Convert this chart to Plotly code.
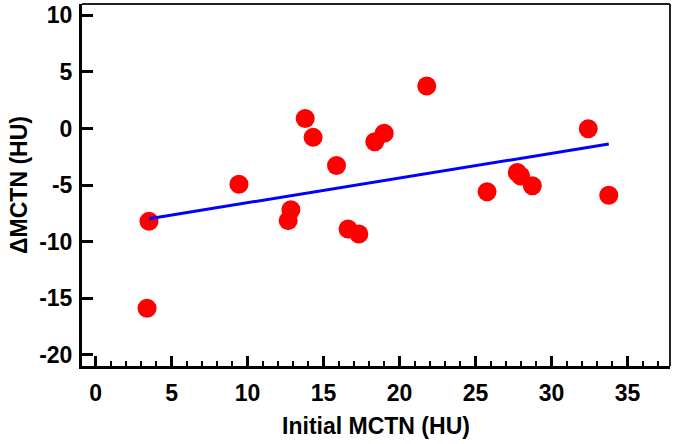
import plotly.graph_objects as go

initial_mctn = [3.51, 3.38, 9.43, 12.67, 12.85, 13.79, 14.31, 15.85, 16.61, 17.32,
                18.37, 18.99, 21.79, 25.76, 27.75, 27.97, 28.74, 32.42, 33.77]
delta_mctn = [-8.2, -15.9, -4.94, -8.15, -7.18, 0.88, -0.79, -3.27, -8.89, -9.33,
              -1.18, -0.43, 3.75, -5.6, -3.9, -4.2, -5.07, -0.02, -5.9]
fit_x = [3.51, 33.77]
fit_y = [-7.98, -1.38]

x_ticks = [0, 5, 10, 15, 20, 25, 30, 35]
y_ticks = [-20, -15, -10, -5, 0, 5, 10]
y_tick_labels = ["-20", "-15", "-10", "-5", "0", "5", "10"]

FAM = "Liberation Sans, Arial, sans-serif"
bold = dict(family=FAM, size=23, color="black", weight="bold")

fig = go.Figure()
fig.add_trace(go.Scatter(x=initial_mctn, y=delta_mctn, mode="markers",
                         marker=dict(color="#ff0000", size=19, line=dict(width=0)),
                         showlegend=False))
fig.add_trace(go.Scatter(x=fit_x, y=fit_y, mode="lines",
                         line=dict(color="#0000ff", width=3), showlegend=False))

fig.update_layout(
    width=675, height=444,
    margin=dict(l=82, r=5, t=4, b=78),
    paper_bgcolor="white", plot_bgcolor="white",
    font=dict(family=FAM, size=23, color="black"),
    xaxis=dict(range=[-0.9, 37.8], tickvals=x_ticks, ticks="inside", ticklen=10,
               tickwidth=2.5, tickcolor="black", automargin=False,
               minor=dict(dtick=1, ticks="inside", ticklen=5, tickwidth=2, tickcolor="black"),
               showline=True, linewidth=3, linecolor="black", showgrid=False, zeroline=False,
               tickfont=bold, ticklabelstandoff=4,
               title=dict(text="Initial MCTN (HU)", standoff=14, font=bold)),
    yaxis=dict(range=[-21, 11], tickvals=y_ticks, ticktext=y_tick_labels,
               ticks="inside", ticklen=11,
               tickwidth=2.5, tickcolor="black", automargin=False,
               showline=True, linewidth=3, linecolor="black", showgrid=False, zeroline=False,
               tickfont=bold, ticklabelstandoff=2,
               title=dict(text="ΔMCTN (HU)", standoff=6, font=bold)),
)

# thin top and right frame lines
fig.add_shape(type="line", xref="paper", yref="paper", x0=0, x1=1, y0=1, y1=1,
              line=dict(color="#222222", width=2))
fig.add_shape(type="line", xref="paper", yref="paper", x0=1, x1=1, y0=0, y1=1,
              line=dict(color="#222222", width=2))

fig.write_html("out.html", config={"displayModeBar": False},
               post_script="document.body.style.margin='0';document.body.style.overflow='hidden';")
